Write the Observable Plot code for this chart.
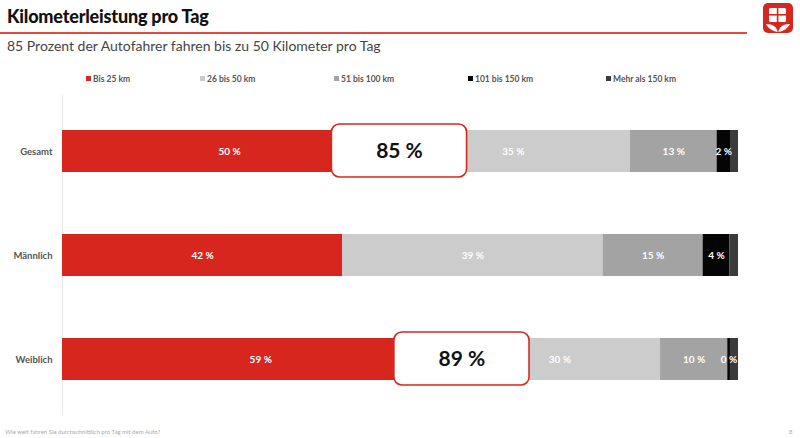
<!DOCTYPE html>
<html><head><meta charset="utf-8">
<script src="https://cdn.jsdelivr.net/npm/d3@7"></script>
<script src="https://cdn.jsdelivr.net/npm/@observablehq/plot@0.6"></script>
<style>
body{margin:0;background:#fff;font-family:Lato,"Open Sans",sans-serif;}
#page{position:relative;width:800px;height:438px;overflow:hidden;}
#title{position:absolute;left:7px;top:5px;font-size:18px;font-weight:900;color:#111;letter-spacing:-0.2px;}
#rule{position:absolute;left:0;top:32px;width:747px;height:2px;background:#e04a40;}
#subtitle{position:absolute;left:7px;top:37px;font-size:14px;color:#444;}
#legend{position:absolute;left:0;top:74px;width:800px;height:14px;font-size:8.5px;font-weight:700;color:#555;}
#legend span{position:absolute;white-space:nowrap;}
#legend i{display:inline-block;width:5px;height:5px;margin-right:2px;vertical-align:1px;}
#chart{position:absolute;left:0;top:95px;}
#footer{position:absolute;left:5px;top:428px;font-size:6px;color:#aaa;}
#pnum{position:absolute;left:789px;top:428px;font-size:6px;color:#aaa;}
#logo{position:absolute;left:763px;top:3px;}
</style></head>
<body><div id="page">
<div id="title">Kilometerleistung pro Tag</div>
<div id="rule"></div>
<div id="subtitle">85 Prozent der Autofahrer fahren bis zu 50 Kilometer pro Tag</div>
<svg id="logo" width="30" height="30" viewBox="0 0 30 30">
<rect x="0" y="0" width="30" height="30" rx="5" fill="#d7261e"/>
<rect x="6" y="5" width="17" height="14" rx="1.5" fill="#fff"/>
<rect x="13.8" y="5" width="1.6" height="14" fill="#d7261e"/>
<rect x="6" y="11" width="17" height="1.6" fill="#d7261e"/>
<path d="M14.6 29 C14 24 10 21 3 21 C5 25 9 28 14.6 29Z" fill="#fff"/>
<path d="M15.4 29 C16 24 20 21 27 21 C25 25 21 28 15.4 29Z" fill="#fff"/>
</svg>
<div id="legend"></div>
<div id="chart"></div>
<div id="footer">Wie weit fahren Sie durchschnittlich pro Tag mit dem Auto?</div>
<div id="pnum">8</div>
</div>
<script>
const groups = ["Gesamt", "Männlich", "Weiblich"];
const categories = ["Bis 25 km", "26 bis 50 km", "51 bis 100 km", "101 bis 150 km", "Mehr als 150 km"];
const bis25 = [50, 42, 59];
const bis50 = [35, 39, 30];
const bis100 = [13, 15, 10];
const bis150 = [2, 4, 0.4];
const mehr150 = [1.2, 1.3, 1.2];
const showLabel = [true, true, true, true, false];
const highlightGroups = ["Gesamt", "Weiblich"];
const highlightValues = [85, 89];
const colors = ["#d7261e", "#cccccc", "#a3a3a3", "#050505", "#3b3b3b"];
const legendX = [86, 200, 334, 468, 606];

const series = [bis25, bis50, bis100, bis150, mehr150];
const data = [];
groups.forEach((g, gi) => series.forEach((s, ci) => data.push({group: g, cat: categories[ci], value: s[gi], label: showLabel[ci]})));

const totals = groups.map((g, gi) => series.reduce((a, s) => a + s[gi], 0));
const boxes = highlightGroups.map((g, i) => {
  const gi = groups.indexOf(g);
  return {group: g, center: bis25[gi] / totals[gi], text: highlightValues[i] + " %"};
});
const boxHalf = 0.1;

// legend
const legend = document.getElementById("legend");
categories.forEach((c, i) => {
  const s = document.createElement("span");
  s.style.left = legendX[i] + "px";
  s.innerHTML = `<i style="background:${colors[i]}"></i>${c}`;
  legend.appendChild(s);
});

const chart = Plot.plot({
  width: 800,
  height: 320,
  marginLeft: 62,
  marginRight: 62,
  marginTop: 0,
  marginBottom: 0,
  style: {fontFamily: "Lato, 'Open Sans', sans-serif", background: "transparent"},
  x: {domain: [0, 1], axis: null},
  y: {domain: groups, paddingInner: 0.6, paddingOuter: 0.324, label: null, tickSize: 0, tickPadding: 10},
  color: {domain: categories, range: colors},
  marks: [
    Plot.ruleX([0], {stroke: "#e8e8e8", strokeWidth: 1}),
    Plot.barX(data, Plot.stackX({x: "value", y: "group", fill: "cat", order: categories, offset: "normalize"})),
    Plot.text(data, Plot.stackX({x: "value", y: "group", z: "cat", order: categories, offset: "normalize",
      text: d => d.label ? Math.round(d.value) + " %" : "", fill: "white", fontWeight: "bold", fontSize: 10})),
    Plot.rect(boxes, {x1: d => d.center - boxHalf, x2: d => d.center + boxHalf, y: "group", dx: 3, insetTop: -6, insetBottom: -5,
      rx: 8, fill: "white", stroke: "#d7261e", strokeWidth: 1.6}),
    Plot.text(boxes, {x: "center", y: "group", dx: 3, text: "text", fontSize: 21, fontWeight: 700, fill: "#111"}),
    Plot.axisY({tickSize: 0, tickPadding: 10, fontSize: 9.5, fontWeight: "bold", fill: "#555", label: null})
  ]
});
document.getElementById("chart").appendChild(chart);
</script>
</body></html>
